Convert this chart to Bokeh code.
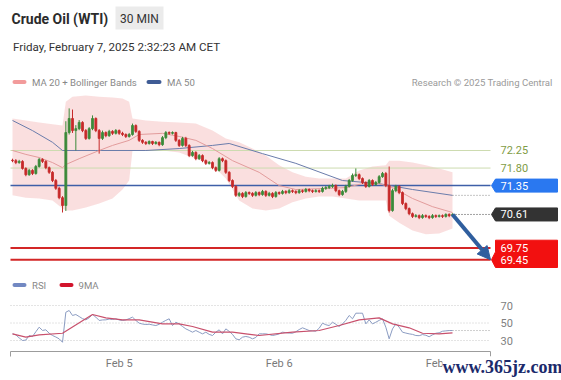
import numpy as np
import pandas as pd
from bokeh.plotting import figure
from bokeh.layouts import column
from bokeh.models import Range1d, ColumnDataSource, Label, Arrow, NormalHead
from bokeh.embed import file_html
from bokeh.resources import INLINE
from bokeh.core.properties import value

# ---------------- texts ----------------
title_text = "Crude Oil (WTI)"
badge_text = "30 MIN"
date_text = "Friday, February 7, 2025 2:32:23 AM CET"
legend_price = ["MA 20 + Bollinger Bands", "MA 50"]
legend_rsi = ["RSI", "9MA"]
credit_text = "Research \u00a9 2025 Trading Central"
watermark_text = "www.365jz.com"

# ---------------- candles (30 min) ----------------
start_time = "2025-02-04 08:00"
opens = [72.00, 71.99, 71.94, 71.97, 71.79, 71.63, 71.74, 71.66, 71.84, 72.02,
         71.97, 71.81, 71.69, 71.48, 71.28, 71.04, 70.84, 72.71, 73.07, 72.76,
         72.81, 72.97, 72.76, 72.56, 72.81, 73.07, 72.76, 72.56, 72.71, 72.63,
         72.74, 72.69, 72.76, 72.69, 72.66, 72.61, 72.66, 72.89, 72.74, 72.51,
         72.46, 72.43, 72.48, 72.43, 72.46, 72.40, 72.58, 72.71, 72.69, 72.71,
         72.51, 72.38, 72.56, 72.38, 72.12, 72.20, 72.04, 72.12, 71.99, 71.92,
         71.94, 71.81, 71.74, 72.04, 71.99, 71.69, 71.48, 71.33, 71.10, 71.15,
         71.07, 71.17, 71.15, 71.10, 71.17, 71.12, 71.20, 71.10, 71.15, 71.07,
         71.17, 71.15, 71.20, 71.17, 71.22, 71.20, 71.17, 71.22, 71.20, 71.25,
         71.22, 71.20, 71.22, 71.20, 71.28, 71.30, 71.33, 71.35, 71.22, 71.12,
         71.20, 71.33, 71.48, 71.61, 71.63, 71.53, 71.43, 71.33, 71.48, 71.38,
         71.43, 71.58, 71.66, 71.35, 70.71, 71.22, 71.33, 71.17, 70.89, 70.76,
         70.63, 70.56, 70.58, 70.53, 70.58, 70.56, 70.53, 70.58, 70.56, 70.58,
         70.56, 70.61, 70.58]
highs = [72.04, 72.03, 72.01, 72.00, 71.82, 71.78, 71.77, 71.88, 72.06, 72.05,
         72.00, 71.84, 71.72, 71.52, 71.32, 71.08, 73.00, 73.33, 73.30, 72.90,
         73.03, 73.00, 72.80, 72.85, 73.15, 73.10, 72.80, 72.76, 72.74, 72.78,
         72.77, 72.80, 72.79, 72.73, 72.69, 72.70, 72.94, 72.92, 72.77, 72.54,
         72.49, 72.51, 72.50, 72.49, 72.48, 72.62, 72.75, 72.74, 72.74, 72.73,
         72.54, 72.60, 72.60, 72.41, 72.24, 72.23, 72.16, 72.15, 72.02, 71.98,
         71.97, 71.84, 72.08, 72.07, 72.02, 71.72, 71.51, 71.36, 71.19, 71.18,
         71.21, 71.20, 71.18, 71.21, 71.20, 71.24, 71.23, 71.19, 71.18, 71.21,
         71.20, 71.24, 71.23, 71.26, 71.25, 71.23, 71.26, 71.25, 71.29, 71.28,
         71.25, 71.26, 71.25, 71.32, 71.34, 71.37, 71.40, 71.38, 71.25, 71.24,
         71.37, 71.52, 71.66, 71.79, 71.66, 71.56, 71.46, 71.52, 71.51, 71.47,
         71.62, 71.70, 71.70, 71.84, 71.27, 71.37, 71.36, 71.20, 70.92, 70.79,
         70.66, 70.62, 70.61, 70.62, 70.61, 70.59, 70.62, 70.61, 70.61, 70.61,
         70.64, 70.64, 70.64]
lows = [71.95, 71.90, 71.91, 71.76, 71.59, 71.60, 71.62, 71.63, 71.81, 71.93,
        71.77, 71.65, 71.44, 71.24, 71.00, 70.66, 70.70, 72.66, 72.70, 72.25,
        72.77, 72.72, 72.52, 72.53, 72.77, 72.72, 72.17, 72.52, 72.59, 72.60,
        72.65, 72.66, 72.65, 72.62, 72.57, 72.58, 72.63, 72.70, 72.47, 72.42,
        72.39, 72.40, 72.39, 72.40, 72.36, 72.37, 72.54, 72.65, 72.66, 72.47,
        72.34, 72.35, 72.34, 72.08, 72.09, 72.00, 72.01, 71.95, 71.88, 71.89,
        71.77, 71.70, 71.71, 71.95, 71.65, 71.44, 71.29, 71.06, 71.06, 71.03,
        71.04, 71.11, 71.06, 71.07, 71.08, 71.09, 71.06, 71.07, 71.03, 71.04,
        71.11, 71.12, 71.13, 71.14, 71.16, 71.13, 71.14, 71.16, 71.17, 71.18,
        71.16, 71.17, 71.16, 71.17, 71.24, 71.26, 71.29, 71.18, 71.08, 71.09,
        71.16, 71.30, 71.45, 71.57, 71.49, 71.39, 71.29, 71.30, 71.34, 71.35,
        71.40, 71.55, 71.31, 70.66, 70.68, 71.18, 71.13, 70.85, 70.72, 70.59,
        70.52, 70.53, 70.49, 70.50, 70.52, 70.49, 70.50, 70.52, 70.53, 70.52,
        70.53, 70.54, 70.55]
closes = [71.99, 71.94, 71.97, 71.79, 71.63, 71.74, 71.66, 71.84, 72.02, 71.97,
          71.81, 71.69, 71.48, 71.28, 71.04, 70.84, 72.71, 73.07, 72.76, 72.81,
          72.97, 72.76, 72.56, 72.81, 73.07, 72.76, 72.56, 72.71, 72.63, 72.74,
          72.69, 72.76, 72.69, 72.66, 72.61, 72.66, 72.89, 72.74, 72.51, 72.46,
          72.43, 72.48, 72.43, 72.46, 72.40, 72.58, 72.71, 72.69, 72.71, 72.51,
          72.38, 72.56, 72.38, 72.12, 72.20, 72.04, 72.12, 71.99, 71.92, 71.94,
          71.81, 71.74, 72.04, 71.99, 71.69, 71.48, 71.33, 71.10, 71.15, 71.07,
          71.17, 71.15, 71.10, 71.17, 71.12, 71.20, 71.10, 71.15, 71.07, 71.17,
          71.15, 71.20, 71.17, 71.22, 71.20, 71.17, 71.22, 71.20, 71.25, 71.22,
          71.20, 71.22, 71.20, 71.28, 71.30, 71.33, 71.35, 71.22, 71.12, 71.20,
          71.33, 71.48, 71.61, 71.63, 71.53, 71.43, 71.33, 71.48, 71.38, 71.43,
          71.58, 71.66, 71.35, 70.71, 71.22, 71.33, 71.17, 70.89, 70.76, 70.63,
          70.56, 70.58, 70.53, 70.58, 70.56, 70.53, 70.58, 70.56, 70.58, 70.56,
          70.61, 70.58, 70.61]

# Bollinger bands / MA 20 (read at sample candles)
bb_idx = [0, 4, 8, 12, 15, 16, 18, 22, 26, 30, 33, 35, 36, 40, 45, 50, 55, 60, 64,
          68, 72, 76, 80, 84, 88, 92, 96, 100, 104, 108, 112, 113, 116, 120, 124, 128, 132]
bb_upper = [73.07, 73.02, 72.97, 72.92, 72.89, 73.50, 73.63, 73.66, 73.63, 73.61, 73.58,
            73.50, 73.07, 73.02, 72.99, 72.97, 72.94, 72.76, 72.56, 72.46, 72.30, 72.12,
            71.87, 71.69, 71.58, 71.53, 71.53, 71.53, 71.74, 71.84, 71.87, 71.99, 71.99,
            71.94, 71.87, 71.79, 71.69]
bb_lower = [71.10, 71.04, 71.02, 70.97, 70.76, 70.71, 70.71, 70.79, 70.89, 71.02, 71.25,
            71.48, 72.25, 72.25, 72.25, 72.20, 72.04, 71.87, 71.53, 70.97, 70.76, 70.71,
            70.76, 70.92, 71.02, 71.07, 71.07, 71.02, 70.97, 70.97, 70.97, 70.58, 70.40,
            70.20, 70.10, 70.12, 70.25]
ma20_idx = [0, 4, 8, 12, 15, 16, 20, 26, 30, 35, 38, 45, 50, 55, 60, 66, 74, 80, 85,
            95, 100, 105, 110, 114, 120, 126, 132]
ma20 = [72.25, 72.15, 72.07, 71.94, 71.81, 71.89, 72.04, 72.25, 72.38, 72.51, 72.66,
        72.69, 72.61, 72.51, 72.30, 71.99, 71.69, 71.35, 71.25, 71.28, 71.30, 71.40,
        71.40, 71.30, 71.02, 70.81, 70.66]
ma50_idx = [0, 6, 12, 15, 25, 40, 50, 60, 65, 75, 85, 99, 110, 120, 132]
ma50 = [73.02, 72.76, 72.46, 72.25, 72.25, 72.25, 72.30, 72.38, 72.43, 72.17, 71.92,
        71.48, 71.40, 71.25, 71.10]

# key levels
resist_levels = [72.25, 71.80]
pivot_level = 71.35
support_levels = [69.75, 69.45]
target_level = 69.45

# RSI
rsi = [37.6, 36.5, 33.0, 30.0, 30.5, 35.7, 34.5, 40.0, 45.2, 41.5,
       42.2, 38.3, 35.7, 34.0, 31.9, 28.0, 62.3, 64.3, 58.6, 59.7,
       57.4, 55.0, 53.6, 55.9, 59.7, 56.7, 52.9, 53.5, 53.6, 54.5,
       54.0, 54.8, 53.5, 52.9, 53.5, 55.0, 56.7, 53.0, 49.8, 48.8,
       48.3, 48.6, 47.8, 47.1, 48.5, 50.9, 53.0, 54.8, 47.1, 50.9,
       49.0, 46.0, 43.3, 41.5, 39.5, 41.4, 39.5, 37.6, 39.5, 37.0,
       35.7, 39.5, 42.2, 37.6, 43.3, 40.5, 37.0, 31.9, 30.8, 33.8,
       34.6, 33.8, 31.9, 33.5, 37.6, 37.6, 37.6, 36.8, 35.7, 36.5,
       37.5, 39.5, 39.0, 38.5, 38.3, 40.0, 42.5, 44.5, 43.0, 41.4,
       41.0, 40.6, 44.0, 49.8, 48.0, 47.1, 50.9, 48.5, 46.0, 49.0,
       53.0, 58.6, 54.8, 61.2, 61.2, 61.2, 49.0, 53.6, 49.0, 50.9,
       53.0, 54.8, 45.2, 31.9, 43.3, 49.0, 45.2, 39.5, 38.5, 37.6,
       37.0, 35.7, 35.5, 36.8, 36.0, 34.3, 36.5, 38.3, 38.8, 40.6,
       41.0, 41.4, 41.4]
ma9_idx = [0, 4, 8, 15, 24, 28, 33, 38, 45, 50, 54, 60, 66, 70, 74, 84, 92, 98, 104,
           110, 114, 119, 123, 128, 132]
ma9 = [37.6, 33.8, 36.5, 38.3, 59.7, 55.9, 53.6, 53.6, 49.0, 49.0, 46.0, 39.5, 39.5,
       37.6, 35.7, 39.5, 41.4, 47.1, 53.6, 55.9, 49.0, 44.5, 38.3, 37.6, 38.7]
rsi_levels = [70, 50, 30]

tick_dates = ["2025-02-05", "2025-02-06", "2025-02-07"]
tick_labels = ["Feb 5", "Feb 6", "Feb 7"]

# ---------------- styling / layout ----------------
FONT = "Roboto"
W = 561
STEP = 30 * 60 * 1000
BULL, BEAR = "#3b8a3a", "#c62a2a"
GRAY_AX = "#9c9c9c"

times = pd.date_range(start_time, periods=len(closes), freq="30min")
tx = np.asarray(times.asi8 // 10**6, dtype=float)
tlast = tx[-1]
xr = Range1d(tx[0] - 3.6 * STEP, tx[0] + 164.7 * STEP)
line_start = tx[0] - 0.6 * STEP
line_end = tlast + 11.4 * STEP
tip_x = tlast + 11.7 * STEP
box_left = tlast + 12.9 * STEP
box_right = tlast + 31.5 * STEP
text_x = tlast + 14.4 * STEP


def add_text(fig, x, y, s, size, color, style="normal", align="left"):
    fig.text(x=[x], y=[y], text=[s], text_font=value(FONT), text_font_size=size,
             text_color=color, text_font_style=style, text_align=align,
             text_baseline="middle")


def strip(fig):
    fig.outline_line_color = None
    fig.background_fill_color = "white"
    fig.border_fill_color = "white"


def blank_fig(h):
    f = figure(width=W, height=h, x_range=Range1d(0, W), y_range=Range1d(h, 0),
               x_axis_type=None, y_axis_type=None, toolbar_location=None,
               output_backend="svg", min_border=0)
    strip(f)
    return f


# ---------------- header ----------------
hdr = blank_fig(92)
hdr.quad(left=[115], right=[163], top=[6], bottom=[29], fill_color="#ebebeb",
         line_color=None)
add_text(hdr, 11, 18, title_text, "14px", "#2b2b2b", "bold")
add_text(hdr, 139, 18, badge_text, "12px", "#333333", align="center")
add_text(hdr, 12.5, 46, date_text, "11.6px", "#333333")
hdr.segment(x0=[14], y0=[81.5], x1=[24], y1=[81.5], line_width=4, line_color="#f29b9b",
            line_cap="round")
add_text(hdr, 31.5, 81.5, legend_price[0], "9.6px", "#888888")
hdr.segment(x0=[148], y0=[81.5], x1=[159], y1=[81.5], line_width=4, line_color="#3f5c95",
            line_cap="round")
add_text(hdr, 166.5, 81.5, legend_price[1], "9.6px", "#888888")
add_text(hdr, 552, 81.5, credit_text, "9.6px", "#9a9a9a", align="right")

# ---------------- price panel ----------------
p = figure(width=W, height=180, x_range=xr, y_range=Range1d(69.122, 73.737),
           x_axis_type=None, y_axis_type=None, toolbar_location=None,
           output_backend="svg", min_border=0)
strip(p)

p.varea(x=tx[bb_idx], y1=bb_lower, y2=bb_upper, fill_color="#f8d4d4", fill_alpha=0.75)

for lv in resist_levels:
    p.segment(x0=[line_start], y0=[lv], x1=[line_end], y1=[lv], line_color="#cddbb0",
              line_width=1)
p.segment(x0=[line_start], y0=[pivot_level], x1=[line_end], y1=[pivot_level],
          line_color="#3f5fa8", line_width=1.5)
for lv in support_levels:
    p.segment(x0=[line_start], y0=[lv], x1=[line_end], y1=[lv], line_color="#d32626",
              line_width=2)

p.line(tx[ma50_idx], ma50, line_color="#6a7cab", line_width=1)
p.segment(x0=[tlast], y0=[ma50[-1]], x1=[line_end], y1=[ma50[-1]], line_color="#8a8a8a",
          line_width=1, line_dash="1 2")
p.line(tx[ma20_idx], ma20, line_color="#e29c9c", line_width=1)

up = [c >= o for o, c in zip(opens, closes)]
src = ColumnDataSource(dict(
    x=tx, h=highs, l=lows,
    top=np.maximum(opens, closes), bottom=np.minimum(opens, closes),
    color=[BULL if u else BEAR for u in up]))
p.segment(x0="x", y0="h", x1="x", y1="l", line_color="color", line_width=1, source=src)
p.vbar(x="x", width=0.6 * STEP, top="top", bottom="bottom", fill_color="color",
       line_color="color", line_width=0.8, source=src)

p.segment(x0=[tlast], y0=[closes[-1]], x1=[line_end], y1=[closes[-1]],
          line_color="#444444", line_width=1, line_dash="1 2")

hh = 0.167
for lv, col in [(pivot_level, "#2a78f0"), (closes[-1], "#333333")]:
    p.patch(x=[tip_x, box_left, box_right, box_right, box_left],
            y=[lv, lv + hh, lv + hh, lv - hh, lv - hh], fill_color=col, line_color=col)
rh = 0.2
top_r, bot_r = max(support_levels) + rh, min(support_levels) - rh
p.patch(x=[box_left, box_right, box_right, box_left, tip_x, box_left],
        y=[top_r, top_r, bot_r, bot_r, target_level, target_level + rh],
        fill_color="#f21010", line_color="#f21010")

p.text(x=[text_x] * 2, y=resist_levels, text=[f"{v:.2f}" for v in resist_levels],
       text_font=value(FONT), text_font_size="11px", text_color="#7f9c45",
       text_baseline="middle")
white_lv = [pivot_level, closes[-1]] + support_levels
p.text(x=[text_x] * len(white_lv), y=white_lv, text=[f"{v:.2f}" for v in white_lv],
       text_font=value(FONT), text_font_size="11px", text_color="white",
       text_baseline="middle")

AC = "#2f5e9e"
p.add_layout(Arrow(end=NormalHead(size=13, fill_color=AC, line_color=AC),
                   x_start=tlast, y_start=closes[-1], x_end=line_end, y_end=target_level,
                   line_color=AC, line_width=4))

# ---------------- RSI legend ----------------
rl = blank_fig(21)
rl.segment(x0=[14], y0=[12.5], x1=[24], y1=[12.5], line_width=4, line_color="#7288c2",
           line_cap="round")
add_text(rl, 31.5, 12.5, legend_rsi[0], "9.6px", "#888888")
rl.segment(x0=[61], y0=[12.5], x1=[71], y1=[12.5], line_width=4, line_color="#d2142c",
           line_cap="round")
add_text(rl, 78, 12.5, legend_rsi[1], "9.6px", "#888888")

# ---------------- RSI panel (with its time axis drawn below) ----------------
PX = 0.875                 # pixels per RSI point
AXIS_Y = 30 - 11 / PX      # axis line 11 px below the 30 level
r = figure(width=W, height=87, x_range=xr, y_range=Range1d(30 - 40 / PX, 70 + 12 / PX),
           x_axis_type=None, y_axis_type=None, toolbar_location=None,
           output_backend="svg", min_border=0)
strip(r)
for lv in rsi_levels:
    r.segment(x0=[line_start], y0=[lv], x1=[line_end], y1=[lv], line_color="#c8c8c8",
              line_width=1, line_dash="1 2")
r.segment(x0=[tlast], y0=[rsi[-1]], x1=[line_end], y1=[rsi[-1]], line_color="#a0a0a0",
          line_width=1, line_dash="1 2")
r.line(tx, rsi, line_color="#8b9cc2", line_width=1)
r.line(tx[ma9_idx], ma9, line_color="#c8506c", line_width=1.2)
r.text(x=[text_x] * 3, y=rsi_levels, text=[str(v) for v in rsi_levels],
       text_font=value(FONT), text_font_size="11px", text_color="#808080",
       text_baseline="middle")

tick_ms = [float(v) for v in (pd.to_datetime(tick_dates).asi8 // 10**6)]
r.segment(x0=[line_start], y0=[AXIS_Y], x1=[line_end], y1=[AXIS_Y], line_color=GRAY_AX,
          line_width=1)
r.segment(x0=[line_start, line_end], y0=[AXIS_Y] * 2, x1=[line_start, line_end],
          y1=[AXIS_Y - 5 / PX] * 2, line_color=GRAY_AX, line_width=1)
r.text(x=tick_ms, y=[AXIS_Y - 12 / PX] * len(tick_ms), text=tick_labels,
       text_font=value(FONT), text_font_size="11px", text_color="#7a7a7a",
       text_align="center", text_baseline="middle")

r.add_layout(Label(x=442, y=14, x_units="screen", y_units="screen", text=watermark_text,
                   text_font="Liberation Serif", text_font_size="18px",
                   text_font_style="bold", text_color="#1b2a6b", text_baseline="middle",
                   background_fill_color="white"))

layout = column(hdr, p, rl, r, spacing=0)
open("out.html", "w").write(file_html(layout, INLINE))
